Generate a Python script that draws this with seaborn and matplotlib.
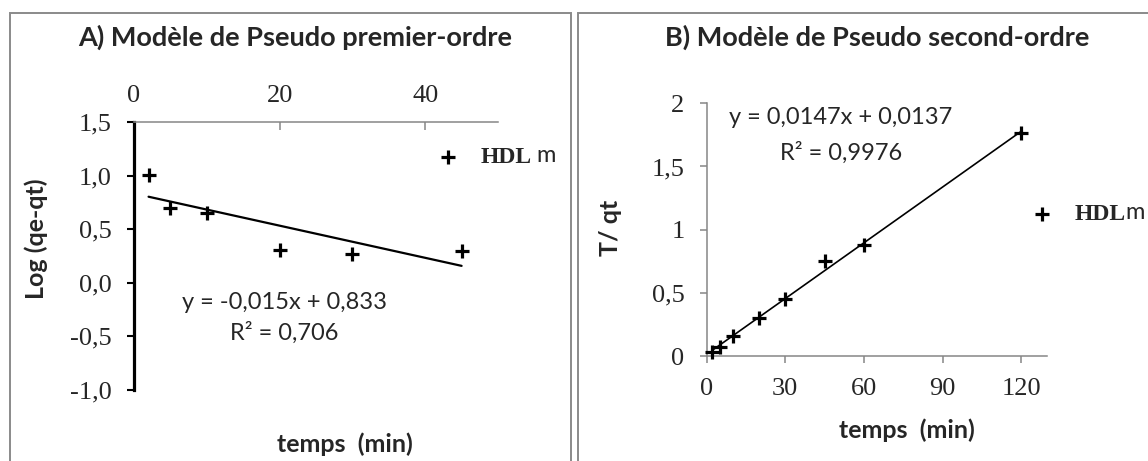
import numpy as np
import matplotlib
matplotlib.use("Agg")
import matplotlib.pyplot as plt
import seaborn as sns
from matplotlib.patches import Rectangle
from matplotlib.font_manager import FontProperties

# --- Pseudo premier-ordre : log(qe - qt) en fonction du temps ---
t_first = [2, 5, 10, 20, 30, 45]
log_qe_qt = [1.01, 0.70, 0.655, 0.305, 0.268, 0.30]
slope_first, icpt_first = -0.015, 0.833
r2_first = 0.706

# --- Pseudo second-ordre : t/qt en fonction du temps ---
t_second = [2, 5, 10, 20, 30, 45, 60, 120]
t_over_qt = [0.03, 0.075, 0.155, 0.30, 0.455, 0.75, 0.875, 1.765]
slope_second, icpt_second = 0.0147, 0.0137
r2_second = 0.9976

series_name = "HDL"
series_suffix = "m"

xticks_first = [0, 20, 40]
yticks_first = [1.5, 1.0, 0.5, 0.0, -0.5, -1.0]
ylabels_first = ["1,5", "1,0", "0,5", "0,0", "-0,5", "-1,0"]
xticks_second = [0, 30, 60, 90, 120]
yticks_second = [0, 0.5, 1, 1.5, 2]
ylabels_second = ["0", "0,5", "1", "1,5", "2"]

titles = ["A) Modèle de Pseudo premier-ordre", "B) Modèle de Pseudo second-ordre"]
ylabels = ["Log (qe-qt)", "T/ qt"]
xlabel = "temps  (min)"

sns.set_theme(style="white")
plt.rcParams["font.family"] = ["Lato", "DejaVu Sans"]

GRAY = "#868686"
SANS = "Lato"
SERIF = "Liberation Serif"
TICK_FS = 19
TITLE_FS = 19.5
LABEL_FS = 18
EQ_FS = 17
LEG_FS = 17

W, H = 1148, 461
fig = plt.figure(figsize=(W / 100, H / 100), dpi=100)
fig.patch.set_facecolor("white")


def axes_px(left, top, right, bottom):
    return fig.add_axes([left / W, 1 - bottom / H, (right - left) / W, (bottom - top) / H])


def fmt(v, nd):
    return f"{v:.{nd}f}".replace(".", ",")


def equation(slope, icpt, nd):
    sign = "+" if icpt >= 0 else "-"
    return f"y = {fmt(slope, nd)}x {sign} {fmt(abs(icpt), nd)}"


# panel frames
fig.add_artist(Rectangle((10 / W, -0.05), (571 - 10) / W, 1.05 - 13 / H,
                         transform=fig.transFigure, fill=False, ec="#8a8a8a", lw=1.4))
fig.add_artist(Rectangle((578 / W, -0.05), 0.6, 1.05 - 13 / H,
                         transform=fig.transFigure, fill=False, ec="#8a8a8a", lw=1.4))

ax1 = axes_px(134, 122, 498, 390)
ax2 = axes_px(706.7, 103.3, 1047.3, 356)

serif_bold = FontProperties(family=SERIF, weight="bold", size=LEG_FS)

# ---------------- panel A ----------------
fx1 = np.array([min(t_first), max(t_first)], dtype=float)
sns.lineplot(x=fx1, y=slope_first * fx1 + icpt_first, color="black", linewidth=1.6, ax=ax1)
sns.scatterplot(x=t_first, y=log_qe_qt, marker="+", color="black", s=100, linewidth=2.3,
                ax=ax1, zorder=3, clip_on=False, label=series_name)
ax1.set_xlim(0, 50)
ax1.set_ylim(-1.0, 1.5)
ax1.xaxis.tick_top()
ax1.set_xticks(xticks_first)
ax1.set_xticklabels([str(v) for v in xticks_first])
ax1.set_yticks(yticks_first)
ax1.set_yticklabels(ylabels_first)
for s in ["right", "bottom"]:
    ax1.spines[s].set_visible(False)
ax1.spines["left"].set_color("black")
ax1.spines["left"].set_linewidth(2.3)
ax1.spines["top"].set_color(GRAY)
ax1.spines["top"].set_linewidth(1.1)
ax1.tick_params(axis="x", which="both", top=True, bottom=False, direction="in",
                length=5.5, width=1.1, color=GRAY, pad=11, labelsize=TICK_FS)
ax1.tick_params(axis="y", left=True, direction="out", length=5, width=1.5,
                color="black", pad=11, labelsize=TICK_FS)
for lab in ax1.get_xticklabels() + ax1.get_yticklabels():
    lab.set_fontfamily(SERIF)
ax1.set_xlabel(xlabel, fontsize=LABEL_FS, fontweight="bold", va="center")
ax1.xaxis.set_label_position("bottom")
ax1.xaxis.set_label_coords((345 - 134) / 364, (390 - 432) / 268)
ax1.set_ylabel(ylabels[0], fontsize=LABEL_FS, fontweight="bold", va="center")
ax1.yaxis.set_label_coords((36 - 134) / 364, (390 - 239) / 268)
ax1.set_title(titles[0], fontsize=TITLE_FS, fontweight="bold", x=(295 - 134) / 364,
              y=(390 - 46) / 268, va="center")
ax1.text(20.7, -0.18, equation(slope_first, icpt_first, 3), ha="center", va="center",
         fontsize=EQ_FS)
ax1.text(20.7, -0.47, f"R² = {fmt(r2_first, 3)}", ha="center", va="center", fontsize=EQ_FS)
ax1.legend(loc="center left", bbox_to_anchor=((436.2 - 134) / 364, (390 - 157) / 268),
           frameon=False, prop=serif_bold, handlelength=1.0, handletextpad=0.86,
           borderpad=0, borderaxespad=0)
fig.text(536 / W, 1 - 162 / H, series_suffix, fontsize=LEG_FS, family=SANS, va="baseline")

# ---------------- panel B ----------------
fx2 = np.array([min(t_second), max(t_second)], dtype=float)
sns.lineplot(x=fx2, y=slope_second * fx2 + icpt_second, color="black", linewidth=1.2, ax=ax2)
sns.scatterplot(x=t_second, y=t_over_qt, marker="+", color="black", s=100, linewidth=2.3,
                ax=ax2, zorder=3, clip_on=False, label=series_name)
ax2.set_xlim(0, 130)
ax2.set_ylim(0, 2)
ax2.set_xticks(xticks_second)
ax2.set_xticklabels([str(v) for v in xticks_second])
ax2.set_yticks(yticks_second)
ax2.set_yticklabels(ylabels_second)
for s in ["right", "top"]:
    ax2.spines[s].set_visible(False)
for s in ["left", "bottom"]:
    ax2.spines[s].set_color(GRAY)
    ax2.spines[s].set_linewidth(1.1)
ax2.tick_params(axis="both", bottom=True, left=True, direction="out", length=5,
                width=1.1, color=GRAY, pad=11, labelsize=TICK_FS)
for lab in ax2.get_xticklabels() + ax2.get_yticklabels():
    lab.set_fontfamily(SERIF)
ax2.set_xlabel(xlabel, fontsize=LABEL_FS, fontweight="bold", va="center")
ax2.xaxis.set_label_coords((907 - 706.7) / 340.6, (356 - 430) / 252.7)
ax2.set_ylabel(ylabels[1], fontsize=LABEL_FS, fontweight="bold", va="center")
ax2.yaxis.set_label_coords((611 - 706.7) / 340.6, (356 - 228) / 252.7)
ax2.set_title(titles[1], fontsize=TITLE_FS, fontweight="bold", x=(877 - 706.7) / 340.6,
              y=(356 - 46) / 252.7, va="center")
ax2.text(51.3, 1.884, equation(slope_second, icpt_second, 4), ha="center", va="center",
         fontsize=EQ_FS)
ax2.text(51.3, 1.607, f"R² = {fmt(r2_second, 4)}", ha="center", va="center", fontsize=EQ_FS)
ax2.legend(loc="center left", bbox_to_anchor=((1030.2 - 706.7) / 340.6, (356 - 214) / 252.7),
           frameon=False, prop=serif_bold, handlelength=1.0, handletextpad=0.86,
           borderpad=0, borderaxespad=0)
fig.text(1125 / W, 1 - 219 / H, series_suffix, fontsize=LEG_FS, family=SANS, va="baseline")

fig.savefig("out.png", dpi=100, facecolor="white")
